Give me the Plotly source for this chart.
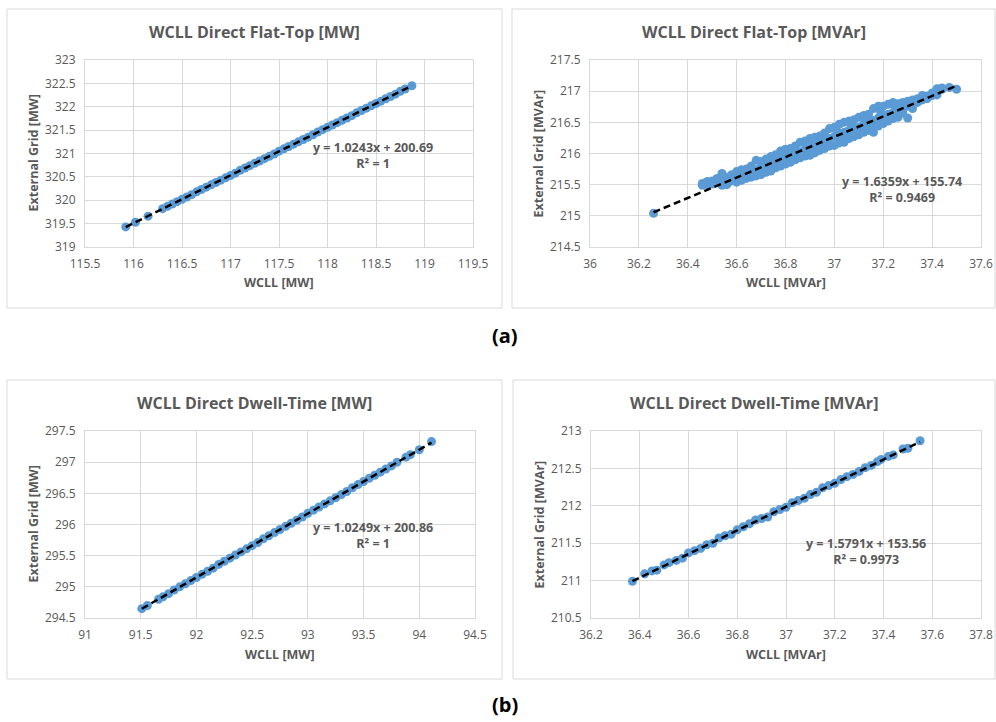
import plotly.graph_objects as go

# ---- data ----
# (a) Flat-Top, active power [MW]
ft_mw_x = [115.92, 116.02, 116.15, 116.30, 116.35, 116.40, 116.45, 116.50, 116.55, 116.60,
           116.65, 116.70, 116.75, 116.80, 116.85, 116.90, 116.95, 117.00, 117.05, 117.10,
           117.15, 117.20, 117.25, 117.30, 117.35, 117.40, 117.45, 117.50, 117.55, 117.60,
           117.65, 117.70, 117.75, 117.80, 117.85, 117.90, 117.95, 118.00, 118.05, 118.10,
           118.15, 118.20, 118.25, 118.30, 118.35, 118.40, 118.45, 118.50, 118.55, 118.60,
           118.65, 118.70, 118.75, 118.80, 118.87]
ft_mw_y = [319.43, 319.53, 319.66, 319.82, 319.87, 319.92, 319.97, 320.02, 320.07, 320.12,
           320.18, 320.23, 320.28, 320.33, 320.38, 320.43, 320.48, 320.53, 320.58, 320.64,
           320.69, 320.74, 320.79, 320.84, 320.89, 320.94, 320.99, 321.05, 321.10, 321.15,
           321.20, 321.25, 321.30, 321.35, 321.40, 321.46, 321.51, 321.56, 321.61, 321.66,
           321.71, 321.76, 321.81, 321.87, 321.92, 321.97, 322.02, 322.07, 322.12, 322.17,
           322.22, 322.27, 322.33, 322.38, 322.45]

# (a) Flat-Top, reactive power [MVAr]
ft_mvar_x = [36.26,
             36.46, 36.46, 36.48, 36.48, 36.50, 36.50, 36.52, 36.52,
             36.54, 36.54, 36.54, 36.56, 36.56, 36.56, 36.58, 36.58,
             36.60, 36.60, 36.60, 36.62, 36.62, 36.62, 36.64, 36.64, 36.64,
             36.66, 36.66, 36.66, 36.68, 36.68, 36.68, 36.70, 36.70, 36.70,
             36.72, 36.72, 36.72, 36.74, 36.74, 36.74, 36.76, 36.76, 36.76,
             36.78, 36.78, 36.78, 36.80, 36.80, 36.80, 36.82, 36.82, 36.82,
             36.84, 36.84, 36.84, 36.86, 36.86, 36.86, 36.88, 36.88, 36.88,
             36.90, 36.90, 36.90, 36.92, 36.92, 36.92, 36.94, 36.94, 36.94,
             36.96, 36.96, 36.96, 36.98, 36.98, 36.98, 37.00, 37.00, 37.00,
             37.02, 37.02, 37.02, 37.04, 37.04, 37.04, 37.06, 37.06, 37.06,
             37.08, 37.08, 37.08, 37.10, 37.10, 37.10, 37.12, 37.12, 37.12,
             37.14, 37.14, 37.14, 37.16, 37.16, 37.16, 37.16, 37.18, 37.18, 37.18,
             37.20, 37.20, 37.20, 37.22, 37.22, 37.22, 37.24, 37.24, 37.24,
             37.26, 37.26, 37.26, 37.28, 37.28, 37.28, 37.30, 37.30, 37.30,
             37.32, 37.32, 37.32, 37.34, 37.34, 37.36, 37.36, 37.38, 37.38,
             37.40, 37.40, 37.42, 37.42, 37.44, 37.44, 37.47, 37.50,
             36.71, 36.77, 36.83, 36.89, 36.95, 37.01, 37.07, 37.13, 37.19, 37.25,
             36.73, 36.79, 36.85, 36.91, 36.97, 37.03, 37.09, 37.15, 37.21, 37.27]
ft_mvar_y = [215.04,
             215.52, 215.49, 215.55, 215.50, 215.51, 215.56, 215.55, 215.60,
             215.68, 215.49, 215.58, 215.50, 215.62, 215.53, 215.66, 215.56,
             215.71, 215.60, 215.54, 215.74, 215.66, 215.57, 215.75, 215.68, 215.60,
             215.80, 215.70, 215.62, 215.89, 215.74, 215.64, 215.87, 215.78, 215.66,
             215.91, 215.80, 215.70, 215.95, 215.84, 215.72, 215.98, 215.86, 215.77,
             216.04, 215.92, 215.80, 216.07, 215.94, 215.83, 216.08, 215.97, 215.86,
             216.12, 216.00, 215.90, 216.18, 216.03, 215.93, 216.20, 216.07, 215.96,
             216.24, 216.11, 215.97, 216.26, 216.13, 216.01, 216.28, 216.16, 216.05,
             216.33, 216.21, 216.08, 216.40, 216.24, 216.12, 216.42, 216.27, 216.13,
             216.47, 216.30, 216.17, 216.50, 216.34, 216.18, 216.52, 216.37, 216.24,
             216.54, 216.40, 216.27, 216.58, 216.42, 216.30, 216.61, 216.47, 216.34,
             216.63, 216.50, 216.37, 216.72, 216.53, 216.40, 216.34, 216.76, 216.57, 216.44,
             216.76, 216.60, 216.48, 216.79, 216.63, 216.52, 216.82, 216.66, 216.56,
             216.80, 216.70, 216.58, 216.82, 216.73, 216.65, 216.84, 216.76, 216.57,
             216.86, 216.78, 216.72, 216.88, 216.82, 216.93, 216.86, 216.92, 216.88,
             216.97, 216.93, 217.04, 216.94, 217.05, 217.03, 217.06, 217.03,
             215.85, 215.96, 216.06, 216.15, 216.25, 216.36, 216.46, 216.56, 216.66, 216.75,
             215.74, 215.84, 215.93, 216.04, 216.14, 216.24, 216.34, 216.45, 216.54, 216.64]

# (b) Dwell-Time, active power [MW]
dt_mw_x = [91.51, 91.56, 91.66, 91.70, 91.75, 91.80, 91.85, 91.90, 91.95, 92.00,
           92.05, 92.10, 92.15, 92.20, 92.25, 92.30, 92.35, 92.40, 92.45, 92.50,
           92.55, 92.60, 92.65, 92.70, 92.75, 92.80, 92.85, 92.90, 92.95, 93.00,
           93.05, 93.10, 93.15, 93.20, 93.25, 93.30, 93.35, 93.40, 93.45, 93.50,
           93.55, 93.60, 93.65, 93.70, 93.75, 93.80, 93.88, 93.92, 94.00, 94.11]
dt_mw_y = [294.65, 294.70, 294.80, 294.84, 294.89, 294.95, 295.00, 295.05, 295.10, 295.15,
           295.20, 295.25, 295.30, 295.36, 295.41, 295.46, 295.51, 295.56, 295.61, 295.66,
           295.71, 295.77, 295.82, 295.87, 295.92, 295.97, 296.02, 296.07, 296.12, 296.18,
           296.23, 296.28, 296.33, 296.38, 296.43, 296.48, 296.53, 296.59, 296.64, 296.69,
           296.74, 296.79, 296.84, 296.89, 296.94, 297.00, 297.08, 297.12, 297.20, 297.33]

# (b) Dwell-Time, reactive power [MVAr]
dt_mvar_x = [36.37, 36.42, 36.45, 36.47, 36.50, 36.52, 36.55, 36.575, 36.60, 36.625,
             36.65, 36.675, 36.70, 36.725, 36.75, 36.775, 36.80, 36.825, 36.85, 36.875,
             36.90, 36.925, 36.95, 36.975, 37.00, 37.025, 37.05, 37.075, 37.10, 37.125,
             37.15, 37.175, 37.20, 37.225, 37.25, 37.275, 37.30, 37.325, 37.35, 37.375,
             37.39, 37.42, 37.44, 37.48, 37.50, 37.55]
dt_mvar_y = [210.99, 211.09, 211.13, 211.14, 211.21, 211.24, 211.27, 211.30, 211.37, 211.40,
             211.43, 211.48, 211.50, 211.57, 211.60, 211.62, 211.68, 211.72, 211.76, 211.81,
             211.83, 211.85, 211.92, 211.95, 211.98, 212.04, 212.07, 212.10, 212.15, 212.18,
             212.24, 212.27, 212.30, 212.35, 212.39, 212.42, 212.46, 212.51, 212.54, 212.59,
             212.62, 212.66, 212.68, 212.76, 212.77, 212.87]

# linear trendlines as reported on the chart (slope, intercept, R²)
trend_slope = [1.0243, 1.6359, 1.0249, 1.5791]
trend_icpt = [200.69, 155.74, 200.86, 153.56]
trend_r2 = ["1", "0.9469", "1", "0.9973"]

titles = ["WCLL Direct Flat-Top [MW]", "WCLL Direct Flat-Top [MVAr]",
          "WCLL Direct Dwell-Time [MW]", "WCLL Direct Dwell-Time [MVAr]"]
x_titles = ["WCLL [MW]", "WCLL [MVAr]", "WCLL [MW]", "WCLL [MVAr]"]
y_titles = ["External Grid [MW]", "External Grid [MVAr]", "External Grid [MW]", "External Grid [MVAr]"]

series = [(ft_mw_x, ft_mw_y), (ft_mvar_x, ft_mvar_y), (dt_mw_x, dt_mw_y), (dt_mvar_x, dt_mvar_y)]

# ---- layout geometry (pixels of a 996 x 722 page) ----
W, H = 996, 722
plot_px = [(85, 473, 60, 247), (590, 981, 60, 247), (85, 475, 431, 618), (591, 981, 431, 618)]
box_px = [(7, 502, 9, 308), (512, 995, 9, 308), (7, 502, 380, 679), (513, 995, 380, 679)]
x_rng = [(115.5, 119.5), (36, 37.6), (91, 94.5), (36.2, 37.8)]
y_rng = [(319, 323), (214.5, 217.5), (294.5, 297.5), (210.5, 213)]
x_dt = [0.5, 0.2, 0.5, 0.2]
eq_px = [(373, 155), (902, 189), (373, 535), (866, 551)]

def px(x):
    return x / W

def py(y):
    return 1 - y / H

FONT = "Open Sans"
GREY = "#595959"
BLUE = "#5b9bd5"

fig = go.Figure()
shapes, annots = [], []
lay = {}

def note(text, x, y, size, color=GREY, angle=0):
    return dict(text=text, x=px(x), y=py(y), xref="paper", yref="paper", showarrow=False,
                xanchor="center", yanchor="middle", textangle=angle, align="center",
                font=dict(family=FONT, size=size, color=color))

for i in range(4):
    n = "" if i == 0 else str(i + 1)
    xa, ya = "x" + n, "y" + n
    xs, ys = series[i]
    fig.add_trace(go.Scatter(x=xs, y=ys, mode="markers", xaxis=xa, yaxis=ya,
                             marker=dict(color=BLUE, size=9), showlegend=False))
    x0, x1 = min(xs), max(xs)
    a, b = trend_slope[i], trend_icpt[i]
    fig.add_trace(go.Scatter(x=[x0, x1], y=[a * x0 + b, a * x1 + b], mode="lines",
                             xaxis=xa, yaxis=ya, showlegend=False,
                             line=dict(color="black", width=2.5, dash="7px,4px")))

    l, r, t, bt = plot_px[i]
    axis_common = dict(showgrid=True, gridcolor="#d9d9d9", showline=True, linecolor="#d9d9d9",
                       mirror=True, zeroline=False, ticks="", automargin=False,
                       ticklabelstandoff=6,
                       tickfont=dict(family=FONT, size=12, color=GREY))
    lay["xaxis" + n] = dict(domain=[px(l), px(r)], anchor=ya, range=list(x_rng[i]),
                            dtick=x_dt[i], tick0=x_rng[i][0], **axis_common)
    lay["yaxis" + n] = dict(domain=[py(bt), py(t)], anchor=xa, range=list(y_rng[i]),
                            dtick=0.5, tick0=y_rng[i][0], **axis_common)

    bl, br, btp, bb = box_px[i]
    shapes.append(dict(type="rect", xref="paper", yref="paper", x0=px(bl), x1=px(br),
                       y0=py(bb), y1=py(btp), line=dict(color="#d9d9d9", width=1)))

    annots.append(note("<b>" + titles[i] + "</b>", (bl + br) / 2, btp + 23, 16))
    annots.append(note("<b>" + x_titles[i] + "</b>", (l + r) / 2, bt + 36, 12.5))
    annots.append(note("<b>" + y_titles[i] + "</b>", l - 52, (t + bt) / 2, 12.5, angle=-90))
    ex, ey = eq_px[i]
    annots.append(note("<b>y = %sx + %s<br>R² = %s</b>" % (a, b, trend_r2[i]), ex, ey, 12.5))

for lab, yy in [("(a)", 335), ("(b)", 704)]:
    annots.append(note("<b>" + lab + "</b>", 505, yy, 20, color="black"))

fig.update_layout(width=W, height=H, margin=dict(l=0, r=0, t=0, b=0, autoexpand=False),
                  paper_bgcolor="white", plot_bgcolor="white", showlegend=False,
                  shapes=shapes, annotations=annots, **lay)

# drop the browser's default body margin so the 996x722 figure fills the window
fig.write_html("out.html", config={"displayModeBar": False},
               post_script="document.body.style.margin='0';")
